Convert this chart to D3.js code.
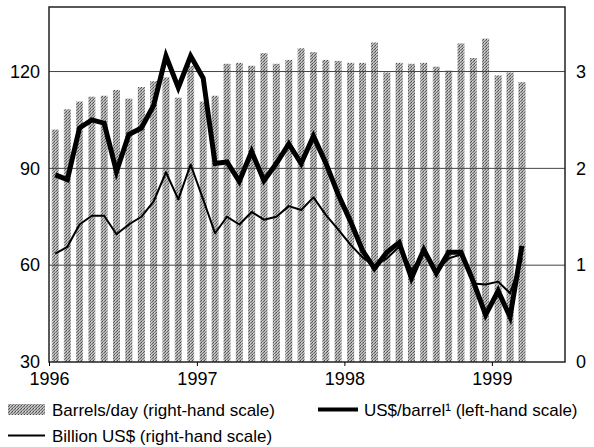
<!DOCTYPE html>
<html>
<head>
<meta charset="utf-8">
<script src="https://cdn.jsdelivr.net/npm/d3@7"></script>
<style>
  body { margin: 0; background: #fff; }
  svg { font-family: "Liberation Sans", Arial, sans-serif; }
</style>
</head>
<body>
<div class="chart"></div>
<script>
// monthly data, Jan 1996 - Mar 1999
var months = [
  "1996-01","1996-02","1996-03","1996-04","1996-05","1996-06","1996-07","1996-08","1996-09","1996-10","1996-11","1996-12",
  "1997-01","1997-02","1997-03","1997-04","1997-05","1997-06","1997-07","1997-08","1997-09","1997-10","1997-11","1997-12",
  "1998-01","1998-02","1998-03","1998-04","1998-05","1998-06","1998-07","1998-08","1998-09","1998-10","1998-11","1998-12",
  "1999-01","1999-02","1999-03"
];
// right-hand scale
var barrelsPerDay = [
  2.40, 2.61, 2.69, 2.74, 2.75, 2.81, 2.72, 2.84, 2.90, 2.94, 2.73, 3.06,
  2.69, 2.75, 3.08, 3.09, 3.06, 3.19, 3.08, 3.12, 3.24, 3.20, 3.12, 3.11,
  3.09, 3.09, 3.30, 2.99, 3.09, 3.08, 3.09, 3.05, 3.01, 3.29, 3.14, 3.34,
  2.96, 2.99, 2.89
];
// right-hand scale
var billionUSD = [
  1.12, 1.19, 1.42, 1.51, 1.51, 1.32, 1.42, 1.50, 1.66, 1.96, 1.68, 2.04,
  1.68, 1.33, 1.50, 1.42, 1.55, 1.47, 1.50, 1.61, 1.57, 1.70, 1.52, 1.37,
  1.21, 1.08, 0.99, 1.07, 1.19, 0.95, 1.12, 0.95, 1.07, 1.11, 0.81, 0.80,
  0.83, 0.71, 1.07
];
// left-hand scale
var usdPerBarrel = [
  88.0, 86.5, 102.5, 105.0, 104.0, 89.0, 100.5, 102.5, 109.5, 124.8, 115.0, 124.8,
  118.0, 91.5, 92.0, 86.0, 95.2, 86.2, 91.5, 97.6, 91.5, 100.0, 91.7, 82.0,
  73.5, 64.5, 59.0, 64.0, 67.0, 56.0, 64.8, 57.5, 64.0, 64.0, 55.0, 44.6,
  52.0, 44.0, 66.0
];
var leftTicks = [30, 60, 90, 120];
var rightTicks = [0, 1, 2, 3];
var yearTicks = ["1996", "1997", "1998", "1999"];

var width = 594, height = 447;
var plotL = 49, plotR = 565, plotT = 7, plotB = 362;

var parseMonth = d3.timeParse("%Y-%m");
var parseYear = d3.timeParse("%Y");

var x = d3.scaleTime()
    .domain([parseYear("1996"), parseMonth("1999-07")])
    .range([plotL, plotR]);
var yLeft = d3.scaleLinear().domain([30, 140]).range([plotB, plotT]);
var yRight = d3.scaleLinear().domain([0, 110 / 30]).range([plotB, plotT]);

function mid(m) {
    var d = parseMonth(m);
    return x(new Date(d.getTime() + (d3.timeMonth.offset(d, 1) - d) / 2));
}

var svg = d3.select(".chart").append("svg")
    .attr("width", width)
    .attr("height", height);

// halftone-ish fill for the bars
var pat = svg.append("defs").append("pattern")
    .attr("id", "dots")
    .attr("width", 3).attr("height", 3)
    .attr("patternUnits", "userSpaceOnUse");
pat.append("rect").attr("width", 3).attr("height", 3).attr("fill", "#b4b4b4");
pat.append("rect").attr("x", 0).attr("y", 0).attr("width", 1).attr("height", 1).attr("fill", "#4a4a4a");
pat.append("rect").attr("x", 2).attr("y", 1).attr("width", 1).attr("height", 1).attr("fill", "#666");
pat.append("rect").attr("x", 1).attr("y", 2).attr("width", 1).attr("height", 1).attr("fill", "#7a7a7a");
pat.append("rect").attr("x", 1).attr("y", 0).attr("width", 1).attr("height", 1).attr("fill", "#d8d8d8");

var barW = 7;
svg.selectAll("rect.bar").data(barrelsPerDay)
  .enter().append("rect")
    .attr("class", "bar")
    .attr("x", function (d, i) { return mid(months[i]) - barW / 2; })
    .attr("y", function (d) { return yRight(d); })
    .attr("width", barW)
    .attr("height", function (d) { return plotB - yRight(d); })
    .attr("fill", "url(#dots)");

// gridlines
svg.selectAll("line.grid").data(leftTicks.slice(1))
  .enter().append("line")
    .attr("class", "grid")
    .attr("x1", plotL).attr("x2", plotR)
    .attr("y1", function (d) { return yLeft(d); })
    .attr("y2", function (d) { return yLeft(d); })
    .attr("stroke", "#444")
    .attr("stroke-width", 1);

var thin = d3.line()
    .x(function (d, i) { return mid(months[i]); })
    .y(function (d) { return yRight(d); });
svg.append("path")
    .datum(billionUSD)
    .attr("d", thin)
    .attr("fill", "none")
    .attr("stroke", "#000")
    .attr("stroke-width", 2)
    .attr("stroke-linejoin", "round");

var thick = d3.line()
    .x(function (d, i) { return mid(months[i]); })
    .y(function (d) { return yLeft(d); });
svg.append("path")
    .datum(usdPerBarrel)
    .attr("d", thick)
    .attr("fill", "none")
    .attr("stroke", "#000")
    .attr("stroke-width", 5)
    .attr("stroke-linejoin", "miter");

// frame
svg.append("rect")
    .attr("x", plotL).attr("y", plotT)
    .attr("width", plotR - plotL).attr("height", plotB - plotT)
    .attr("fill", "none")
    .attr("stroke", "#222")
    .attr("stroke-width", 1.5);

// axes
svg.append("g")
    .attr("transform", "translate(0," + plotB + ")")
    .call(d3.axisBottom(x)
        .tickValues(yearTicks.map(parseYear))
        .tickSize(4)
        .tickPadding(6)
        .tickFormat(d3.timeFormat("%Y")))
    .call(function (g) { g.select(".domain").remove(); })
    .selectAll("text").attr("font-size", 18).attr("fill", "#000");

svg.append("g")
    .attr("transform", "translate(" + plotL + ",0)")
    .call(d3.axisLeft(yLeft).tickValues(leftTicks).tickSize(0).tickPadding(9))
    .call(function (g) { g.select(".domain").remove(); })
    .selectAll("text").attr("font-size", 18).attr("fill", "#000");

svg.append("g")
    .attr("transform", "translate(" + plotR + ",0)")
    .call(d3.axisRight(yRight).tickValues(rightTicks).tickSize(0).tickPadding(11)
        .tickFormat(d3.format("d")))
    .call(function (g) { g.select(".domain").remove(); })
    .selectAll("text").attr("font-size", 18).attr("fill", "#000");

// legend
var lg = svg.append("g").attr("font-size", 17).attr("fill", "#000");
lg.append("rect").attr("x", 8).attr("y", 404).attr("width", 37).attr("height", 11).attr("fill", "url(#dots)");
lg.append("text").attr("x", 52).attr("y", 416).text("Barrels/day (right-hand scale)");
lg.append("line").attr("x1", 318).attr("x2", 358).attr("y1", 409.5).attr("y2", 409.5)
    .attr("stroke", "#000").attr("stroke-width", 4);
lg.append("text").attr("x", 364).attr("y", 416).text("US$/barrel\u00B9 (left-hand scale)");
lg.append("line").attr("x1", 8).attr("x2", 45).attr("y1", 435.5).attr("y2", 435.5)
    .attr("stroke", "#000").attr("stroke-width", 2);
lg.append("text").attr("x", 52).attr("y", 442).text("Billion US$ (right-hand scale)");
</script>
</body>
</html>
